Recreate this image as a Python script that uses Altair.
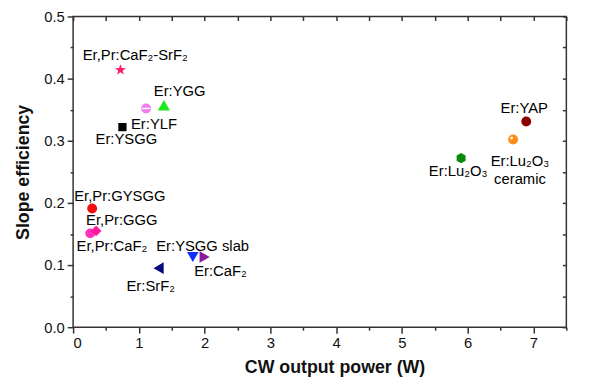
import altair as alt
import pandas as pd

# ---------------- data ----------------
names = ["Er,Pr:CaF2-SrF2", "Er:YLF", "Er:YGG", "Er:YSGG", "Er,Pr:GYSGG",
         "Er,Pr:CaF2", "Er,Pr:GGG", "Er:YSGG slab", "Er:CaF2", "Er:SrF2",
         "Er:YAP", "Er:Lu2O3 ceramic", "Er:Lu2O3"]
power_w = [0.72, 1.11, 1.38, 0.75, 0.29, 0.26, 0.35, 1.82, 2.00, 1.30, 6.89, 6.69, 5.90]
slope_eff = [0.414, 0.352, 0.357, 0.322, 0.191, 0.151, 0.155, 0.113, 0.113, 0.095, 0.331, 0.302, 0.272]
label_text = ["Er,Pr:CaF₂-SrF₂", "Er:YLF", "Er:YGG", "Er:YSGG", "Er,Pr:GYSGG",
              "Er,Pr:CaF₂", "Er,Pr:GGG", "Er:YSGG slab", "Er:CaF₂", "Er:SrF₂",
              "Er:YAP", "Er:Lu₂O₃\nceramic", "Er:Lu₂O₃"]

x_major = [0, 1, 2, 3, 4, 5, 6, 7]
x_minor = [0.5, 1.5, 2.5, 3.5, 4.5, 5.5, 6.5, 7.5]
y_major = [0.0, 0.1, 0.2, 0.3, 0.4, 0.5]
y_minor = [0.05, 0.15, 0.25, 0.35, 0.45]

x_title = "CW output power (W)"
y_title = "Slope efficiency"

# ---------------- styles ----------------
STAR = ("M0,-1L0.235,-0.324L0.951,-0.309L0.380,0.124L0.588,0.809L0,0.4"
        "L-0.588,0.809L-0.380,0.124L-0.951,-0.309L-0.235,-0.324Z")
HEX = "M0,-1L0.866,-0.5L0.866,0.5L0,1L-0.866,0.5L-0.866,-0.5Z"

marker_style = {
    "Er,Pr:CaF2-SrF2": (STAR, "#ff1a6e", 135),
    "Er:YLF": ("circle", "#f07cf0", 100),
    "Er:YGG": ("triangle-up", "#1ee81e", 150),
    "Er:YSGG": ("square", "#000000", 70),
    "Er,Pr:GYSGG": ("circle", "#f01010", 100),
    "Er,Pr:CaF2": ("circle", "#ff33bb", 100),
    "Er,Pr:GGG": ("diamond", "#ff1aa0", 120),
    "Er:YSGG slab": ("triangle-down", "#1030ff", 140),
    "Er:CaF2": ("triangle-right", "#8a1a9a", 140),
    "Er:SrF2": ("triangle-left", "#0a0a80", 140),
    "Er:YAP": ("circle", "#8b0000", 100),
    "Er:Lu2O3 ceramic": ("circle", "#ff8c1a", 100),
    "Er:Lu2O3": (HEX, "#0a8a0a", 110),
}

label_offset = {
    "Er,Pr:CaF2-SrF2": (15, -15),
    "Er:YLF": (8, 16),
    "Er:YGG": (16, -14),
    "Er:YSGG": (4, 12),
    "Er,Pr:GYSGG": (28, -13),
    "Er,Pr:CaF2": (22, 13),
    "Er,Pr:GGG": (26, -11),
    "Er:YSGG slab": (10, -11),
    "Er:CaF2": (16, 14),
    "Er:SrF2": (-8, 18),
    "Er:YAP": (-2, -14),
    "Er:Lu2O3 ceramic": (7, 22),
    "Er:Lu2O3": (-3, 13),
}

df = pd.DataFrame({"name": names, "power": power_w, "slope": slope_eff, "label": label_text})
df["shape"] = [marker_style[n][0] for n in names]
df["color"] = [marker_style[n][1] for n in names]
df["size"] = [marker_style[n][2] for n in names]

FONT = "Liberation Sans"
W, H = 500, 315
xs = alt.Scale(domain=[0, 7.5], nice=False, zero=False)
ys = alt.Scale(domain=[0, 0.5], nice=False, zero=False)

base = alt.Chart(df)

# main points + main axes
points = base.mark_point(filled=True, opacity=1).encode(
    x=alt.X("power:Q", scale=xs,
            axis=alt.Axis(orient="bottom", values=x_major, format="d", tickSize=6,
                          labelPadding=3, title=x_title, titleX=265, titlePadding=8)),
    y=alt.Y("slope:Q", scale=ys,
            axis=alt.Axis(orient="left", values=y_major, format=".1f", tickSize=6,
                          labelPadding=3, title=y_title, titlePadding=11)),
    shape=alt.Shape("shape:N", scale=None),
    color=alt.Color("color:N", scale=None),
    size=alt.Size("size:Q", scale=None),
)

# minor ticks on bottom / left
minor = base.mark_point(opacity=0).encode(
    x=alt.X("power:Q", scale=xs,
            axis=alt.Axis(orient="bottom", values=x_minor, tickSize=3, labels=False, title=None)),
    y=alt.Y("slope:Q", scale=ys,
            axis=alt.Axis(orient="left", values=y_minor, tickSize=3, labels=False, title=None)),
)

# mirrored inward ticks on top / right
mirror = base.mark_point(opacity=0).encode(
    x=alt.X("power:Q", scale=xs,
            axis=alt.Axis(orient="bottom", offset=-H, values=sorted(x_major + x_minor),
                          tickSize=4, labels=False, title=None)),
    y=alt.Y("slope:Q", scale=ys,
            axis=alt.Axis(orient="left", offset=-W, values=sorted(y_major + y_minor),
                          tickSize=4, labels=False, title=None)),
)

xe = alt.X("power:Q", scale=xs, axis=None)
ye = alt.Y("slope:Q", scale=ys, axis=None)

ylf_stripe = base.transform_filter(alt.datum.name == "Er:YLF").mark_point(
    shape="stroke", stroke="white", strokeWidth=1.5, size=70, opacity=1
).encode(x=xe, y=ye)

ceramic_glint = base.transform_filter(alt.datum.name == "Er:Lu2O3 ceramic").mark_point(
    shape="circle", filled=True, color="white", size=8, opacity=1, xOffset=-1.5, yOffset=-1.5
).encode(x=xe, y=ye)

label_layers = []
for n in names:
    dx, dy = label_offset[n]
    label_layers.append(
        base.transform_filter(alt.datum.name == n).mark_text(
            dx=dx, dy=dy, font=FONT, fontSize=15, color="#000000",
            align="center", baseline="middle", lineBreak="\n", lineHeight=18
        ).encode(x=xe, y=ye, text="label:N")
    )

chart = alt.layer(mirror, minor, points, ylf_stripe, ceramic_glint, *label_layers).resolve_axis(
    x="independent", y="independent"
).properties(
    width=W, height=H,
    autosize=alt.AutoSizeParams(type="none"),
    padding={"left": 66, "top": 6, "right": 26, "bottom": 57},
    background="white",
).configure_view(
    stroke="#333333", strokeWidth=1.5
).configure_axis(
    grid=False, domain=False,
    labelFont=FONT, labelFontSize=15, labelColor="#111111",
    tickColor="#333333", tickWidth=1.5,
    titleFont=FONT, titleFontSize=18, titleFontWeight="bold", titleColor="#111111",
)

chart.save("out.html", embed_options={"renderer": "svg", "actions": False})
